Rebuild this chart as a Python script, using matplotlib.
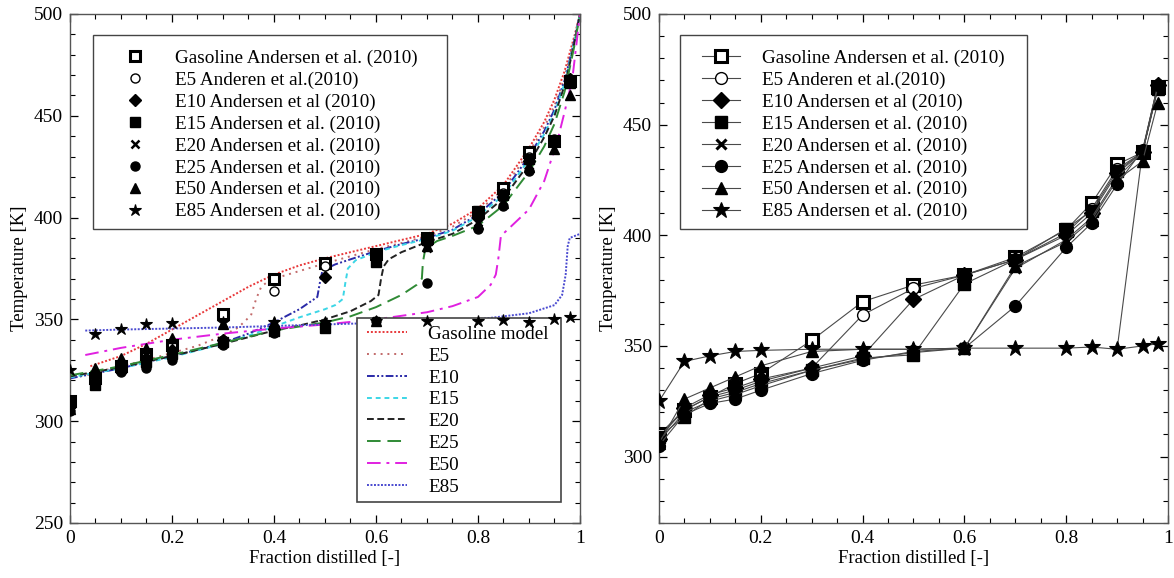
import numpy as np
import matplotlib.pyplot as plt
from matplotlib import ticker
from matplotlib.patches import Rectangle

plt.rcParams["font.family"] = ["Liberation Serif", "DejaVu Serif"]
plt.rcParams["mathtext.fontset"] = "stix"

# ---- measured distillation data (fraction distilled, temperature K) ----
frac = [0.0, 0.05, 0.1, 0.15, 0.2, 0.3, 0.4, 0.5, 0.6, 0.7, 0.8, 0.85, 0.9, 0.95, 0.98]

T_gasoline = [310, 321, 327, 333, 337.5, 352.5, 370, 377.5, 382, 390, 402.5, 414.5, 432, 437.5, 467]
T_e5 = [309, 321, 327, 330, 334, 340, 364, 376, 382, 389, 401, 412, 430, 437.5, 467]
T_e10 = [308, 322, 328, 331, 335, 340, 345.5, 371, 382, 389, 400, 410, 428, 437.5, 468]
T_e15 = [309, 318, 326, 329, 333, 339, 344.5, 346, 378, 389, 403, 411, 429, 437.5, 466]
T_e20 = [307, 320, 325, 328, 332, 339, 344, 347, 349, 385, 398, 408, 426, 437.5, 467]
T_e25 = [305, 319, 324, 326, 330, 337.5, 343.5, 347.5, 349, 368, 394.5, 405.5, 423, 438.5, 468]
T_e50 = [306, 326, 331, 336, 341, 347.5, 348.5, 348.5, 349, 386, 397, 407, 425, 433.5, 460]
T_e85 = [325, 343, 345.5, 347.5, 348, 348.5, 348.5, 348.5, 349, 349, 349, 349.5, 348.5, 350, 351]

# E85 end-of-run segment as plotted in the joined-data panel
E85_rise_x = [0.9, 0.95, 0.98]
E85_rise_T = [348.5, 438, 468]

# ---- model curves ----
gas_mod_x = [0.04, 0.1, 0.15, 0.2, 0.25, 0.3, 0.35, 0.4, 0.45, 0.5, 0.55, 0.6, 0.65, 0.7,
             0.75, 0.8, 0.85, 0.9, 0.93, 0.95, 0.97, 0.98, 0.99, 1.0]
gas_mod_T = [327, 332, 338, 345, 352, 359, 366, 372, 376.5, 380, 383, 386, 389, 392,
             397, 404.5, 416, 434, 447, 458, 472, 481, 490, 500]

e5_mod_x = [0.02, 0.1, 0.15, 0.2, 0.25, 0.3, 0.33, 0.355, 0.365, 0.375, 0.39, 0.42, 0.5,
            0.55, 0.6, 0.65, 0.7, 0.75, 0.8, 0.85, 0.9, 0.93, 0.95, 0.97, 0.98, 0.99, 1.0]
e5_mod_T = [322, 327, 330, 333.5, 337, 342, 346, 352, 360, 366, 369, 371.5, 377.5,
            381, 384.5, 387.5, 391, 395.5, 403, 414, 432, 444.5, 455, 469, 479, 489, 500]

e10_mod_x = [0.0, 0.05, 0.1, 0.15, 0.2, 0.25, 0.3, 0.35, 0.4, 0.45, 0.485, 0.49, 0.495, 0.52,
             0.55, 0.6, 0.65, 0.7, 0.75, 0.8, 0.85, 0.9, 0.93, 0.95, 0.97, 0.98, 0.99, 1.0]
e10_mod_T = [321, 323.5, 326, 329, 332, 335, 338.5, 343, 348.5, 355, 361, 368, 374, 377,
             379.5, 383.5, 387, 390, 394, 401.5, 412.5, 430, 442.5, 453, 467.5, 477.5, 488, 500]

e15_mod_x = [0.0, 0.1, 0.2, 0.3, 0.35, 0.4, 0.45, 0.5, 0.52, 0.535, 0.54, 0.545, 0.56, 0.6,
             0.65, 0.7, 0.75, 0.8, 0.85, 0.9, 0.93, 0.95, 0.97, 0.98, 0.99, 1.0]
e15_mod_T = [321.5, 326, 331.5, 338, 342, 346.5, 351, 355, 357, 360, 368, 375, 379, 383,
             386.5, 389.5, 393.5, 400.5, 411, 428.5, 441, 451.5, 466, 476.5, 487.5, 500]

e20_mod_x = [0.0, 0.1, 0.2, 0.3, 0.4, 0.45, 0.5, 0.55, 0.59, 0.605, 0.61, 0.615, 0.625, 0.65,
             0.7, 0.75, 0.8, 0.85, 0.9, 0.93, 0.95, 0.97, 0.98, 0.99, 1.0]
e20_mod_T = [322, 326.5, 332, 338, 344.5, 347, 350, 354, 359, 362, 370, 376, 379.5, 383,
             388, 392, 399, 409.5, 426.5, 439.5, 450, 465, 475.5, 487, 500]

e25_mod_x = [0.0, 0.1, 0.2, 0.3, 0.4, 0.5, 0.55, 0.6, 0.65, 0.68, 0.69, 0.692, 0.697, 0.72,
             0.75, 0.8, 0.85, 0.9, 0.93, 0.95, 0.97, 0.98, 0.99, 1.0]
e25_mod_T = [322.5, 327, 332.5, 338.5, 344.5, 348.5, 351.5, 356, 362, 367, 370, 378, 385, 388.5,
             391, 396, 406, 422.5, 435, 446, 462, 473.5, 485.5, 500]

e50_mod_x = [0.03, 0.1, 0.2, 0.3, 0.4, 0.5, 0.6, 0.7, 0.75, 0.8, 0.825, 0.835, 0.84, 0.845,
             0.86, 0.9, 0.93, 0.955, 0.97, 0.985, 1.0]
e50_mod_T = [332.5, 336, 340, 343, 345.5, 347.5, 350, 353.5, 356.5, 361, 367, 372, 380, 391,
             394.5, 404, 418, 437, 452, 468, 500]

e85_mod_x = [0.03, 0.1, 0.2, 0.3, 0.5, 0.7, 0.8, 0.9, 0.95, 0.965, 0.972, 0.976, 0.98, 0.99, 1.0]
e85_mod_T = [344.5, 345, 345.5, 346, 347.5, 349, 350, 353, 357, 362, 372, 386, 390, 391, 392]

data_labels = ["Gasoline Andersen et al. (2010)", "E5 Anderen et al.(2010)",
               "E10 Andersen et al (2010)", "E15 Andersen et al. (2010)",
               "E20 Andersen et al. (2010)", "E25 Andersen et al. (2010)",
               "E50 Andersen et al. (2010)", "E85 Andersen et al. (2010)"]
model_labels = ["Gasoline model", "E5", "E10", "E15", "E20", "E25", "E50", "E85"]

exp_series = [T_gasoline, T_e5, T_e10, T_e15, T_e20, T_e25, T_e50, T_e85]
# marker, size scale, face colour, edge width
exp_style = [("s", 1.0, "white", 2.2), ("o", 1.0, "white", 1.0), ("D", 0.95, "black", 1.0),
             ("s", 1.0, "black", 1.0), ("x", 0.85, "black", 2.2), ("o", 1.0, "black", 1.0),
             ("^", 1.0, "black", 1.0), ("*", 1.4, "black", 0.8)]

model_series = [(gas_mod_x, gas_mod_T), (e5_mod_x, e5_mod_T), (e10_mod_x, e10_mod_T),
                (e15_mod_x, e15_mod_T), (e20_mod_x, e20_mod_T), (e25_mod_x, e25_mod_T),
                (e50_mod_x, e50_mod_T), (e85_mod_x, e85_mod_T)]
model_style = [("#e8383a", (0, (1, 1))), ("#c26a6a", (0, (1, 2.5))),
               ("#2a2aa8", (0, (4, 1.2, 1, 1.2, 1, 1.2))), ("#3cd6e6", (0, (2.5, 2))),
               ("#222222", (0, (3.5, 1.8))), ("#2f8a35", (0, (7, 3.5))),
               ("#e020e0", (0, (7, 3, 1.5, 3))), ("#4a4ad0", (0, (1, 0.8)))]

FS_LEG = 13.8
FS_TICK = 14
FS_LAB = 13.5


def legend_box(ax, x0, y0, x1, y1, lw=1.0):
    """plain rectangular legend frame in axes coordinates (under the markers)"""
    r = Rectangle((x0, y0), x1 - x0, y1 - y0, transform=ax.transAxes, facecolor="white",
                  edgecolor="#444444", lw=lw, zorder=2.5)
    ax.add_patch(r)


fig = plt.figure(figsize=(11.74, 5.78), dpi=100)
ax1 = fig.add_axes([0.0596, 0.0952, 0.4344, 0.8806])
ax2 = fig.add_axes([0.5613, 0.0952, 0.4336, 0.8806])

fmt = ticker.FuncFormatter(lambda v, p: "%g" % v)
for ax in (ax1, ax2):
    ax.set_xlim(0, 1)
    ax.xaxis.set_major_locator(ticker.MultipleLocator(0.2))
    ax.xaxis.set_minor_locator(ticker.MultipleLocator(0.05))
    ax.yaxis.set_major_locator(ticker.MultipleLocator(50))
    ax.yaxis.set_minor_locator(ticker.MultipleLocator(10))
    ax.xaxis.set_major_formatter(fmt)
    ax.tick_params(which="both", direction="in", top=True, right=True, labelsize=FS_TICK)
    ax.tick_params(which="major", length=6, width=0.9, pad=5)
    ax.tick_params(which="minor", length=3.5, width=0.8)
    for s in ax.spines.values():
        s.set_linewidth(1.0)
        s.set_color("#555555")
    ax.set_xlabel("Fraction distilled [-]", fontsize=FS_LAB, labelpad=2)
    ax.set_ylabel("Temperature [K]", fontsize=FS_LAB, labelpad=4)

ax1.set_ylim(250, 500)
ax2.set_ylim(270, 500)

# ============ left: model curves + measured points ============
model_handles = []
for (mx, mt), (col, ls), lab in zip(model_series, model_style, model_labels):
    h, = ax1.plot(mx, mt, color=col, linestyle=ls, lw=1.4, label=lab, zorder=2)
    model_handles.append(h)

exp_handles = []
for T, (mk, sc, fc, mew), lab in zip(exp_series, exp_style, data_labels):
    h, = ax1.plot(frac, T, linestyle="none", marker=mk, ms=6.5 * sc, mfc=fc,
                  mec="black", mew=mew if mk != "x" else 1.8, color="black", label=lab,
                  zorder=3)
    exp_handles.append(h)

legend_box(ax1, 0.045, 0.578, 0.739, 0.959)
leg1 = ax1.legend(handles=exp_handles, loc="upper left", bbox_to_anchor=(0.090, 0.930),
                  fontsize=FS_LEG, frameon=False, borderpad=0, labelspacing=0.23,
                  handlelength=2.0, handletextpad=1.1, borderaxespad=0)
ax1.add_artist(leg1)

legend_box(ax1, 0.563, 0.041, 0.963, 0.403, lw=1.2)
leg2 = ax1.legend(handles=model_handles, loc="upper left", bbox_to_anchor=(0.582, 0.388),
                  fontsize=FS_LEG, frameon=False, borderpad=0, labelspacing=0.23,
                  handlelength=2.1, handletextpad=1.1, borderaxespad=0)

# ============ right: measured points joined by lines ============
right_handles = []
for T, (mk, sc, fc, mew), lab in zip(exp_series, exp_style, data_labels):
    h, = ax2.plot(frac, T, color="#4a4a4a", lw=0.8, marker=mk, ms=8.5 * sc, mfc=fc,
                  mec="black", mew=mew if mk != "x" else 2.2, label=lab, zorder=3)
    right_handles.append(h)
ax2.plot(E85_rise_x, E85_rise_T, color="#4a4a4a", lw=0.8, zorder=2)

legend_box(ax2, 0.041, 0.578, 0.723, 0.959)
leg3 = ax2.legend(handles=right_handles, loc="upper left", bbox_to_anchor=(0.0845, 0.930),
                  fontsize=FS_LEG, frameon=False, borderpad=0, labelspacing=0.23,
                  handlelength=2.0, handletextpad=1.15, borderaxespad=0)

fig.savefig("out.png", dpi=100)
